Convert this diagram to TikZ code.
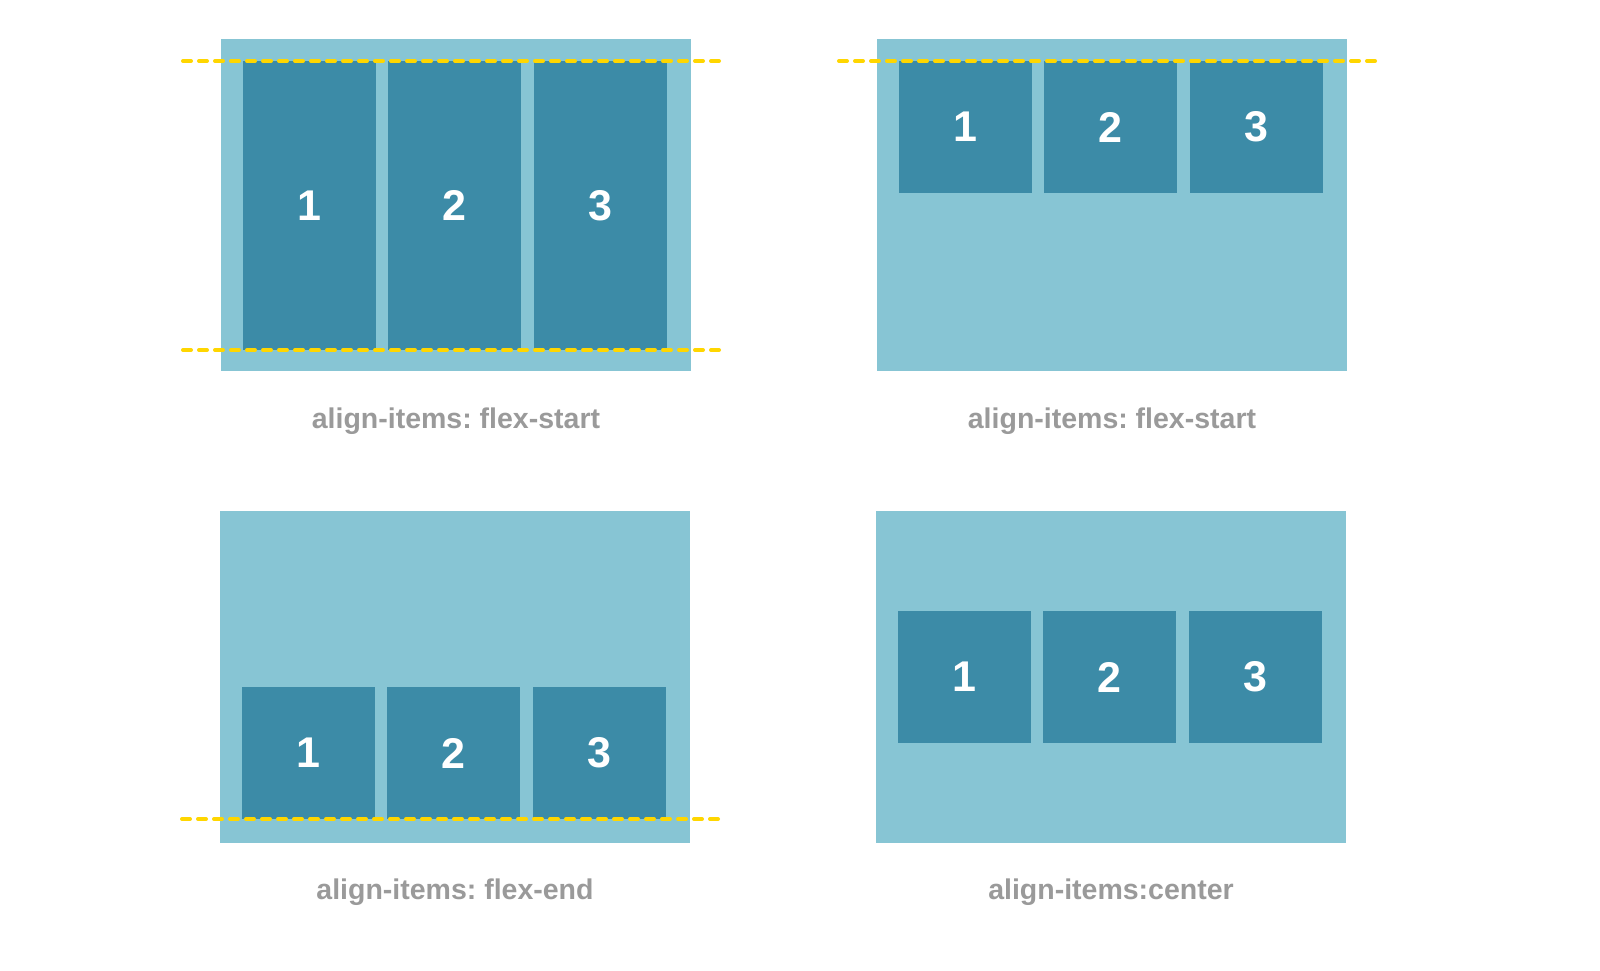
\documentclass[tikz,border=0pt]{standalone}
\usepackage{fontspec}
\setmainfont{Liberation Sans}
\frenchspacing
\definecolor{boxlight}{HTML}{87C5D4}
\definecolor{boxdark}{HTML}{3C8BA7}
\definecolor{guide}{HTML}{FFD600}
\definecolor{captiongray}{HTML}{9A9A9A}
\tikzset{
  container/.style={fill=boxlight},
  item/.style={fill=boxdark},
  num/.style={text=white,font=\fontsize{43}{43}\selectfont\bfseries},
  guideline/.style={draw=guide,line width=4pt,line cap=round,dash pattern=on 8pt off 8pt},
  captext/.style={text=captiongray,font=\fontsize{28.5}{28.5}\selectfont\bfseries}
}
\begin{document}
\begin{tikzpicture}[x=1pt,y=-1pt]
\useasboundingbox[fill=white] (0,0) rectangle (1600,970);

% top left
\fill[container] (221,39) rectangle (691,371);
\fill[item] (243,61) rectangle (376,350);
\fill[item] (388,61) rectangle (521,350);
\fill[item] (534,61) rectangle (667,350);
\node[num] (a1) at (309.5,205.5) {1};
\node[num] (a2) at (454.5,205.5) {2};
\node[num] (a3) at (600.5,205.5) {3};
\draw[guideline] (183,61) -- (723,61);
\draw[guideline] (183,350) -- (723,350);
\node[captext] (ca) at (456,421) {align-items: flex-start};

% top right
\fill[container] (877,39) rectangle (1347,371);
\fill[item] (899,61) rectangle (1032,193);
\fill[item] (1044,61) rectangle (1177,193);
\fill[item] (1190,61) rectangle (1323,193);
\node[num] (b1) at (965.5,127) {1};
\node[num] (b2) at (1110.5,127) {2};
\node[num] (b3) at (1256.5,127) {3};
\draw[guideline] (839,61) -- (1379,61);
\node[captext] (cb) at (1112,421) {align-items: flex-start};

% bottom left
\fill[container] (220,511) rectangle (690,843);
\fill[item] (242,687) rectangle (375,819);
\fill[item] (387,687) rectangle (520,819);
\fill[item] (533,687) rectangle (666,819);
\node[num] (c1) at (308.5,753) {1};
\node[num] (c2) at (453.5,753) {2};
\node[num] (c3) at (599.5,753) {3};
\draw[guideline] (182,819) -- (722,819);
\node[captext] (cc) at (455,892) {align-items: flex-end};

% bottom right
\fill[container] (876,511) rectangle (1346,843);
\fill[item] (898,611) rectangle (1031,743);
\fill[item] (1043,611) rectangle (1176,743);
\fill[item] (1189,611) rectangle (1322,743);
\node[num] (d1) at (964.5,677) {1};
\node[num] (d2) at (1109.5,677) {2};
\node[num] (d3) at (1255.5,677) {3};
\node[captext] (cd) at (1111,892) {align-items:center};
\end{tikzpicture}
\end{document}
